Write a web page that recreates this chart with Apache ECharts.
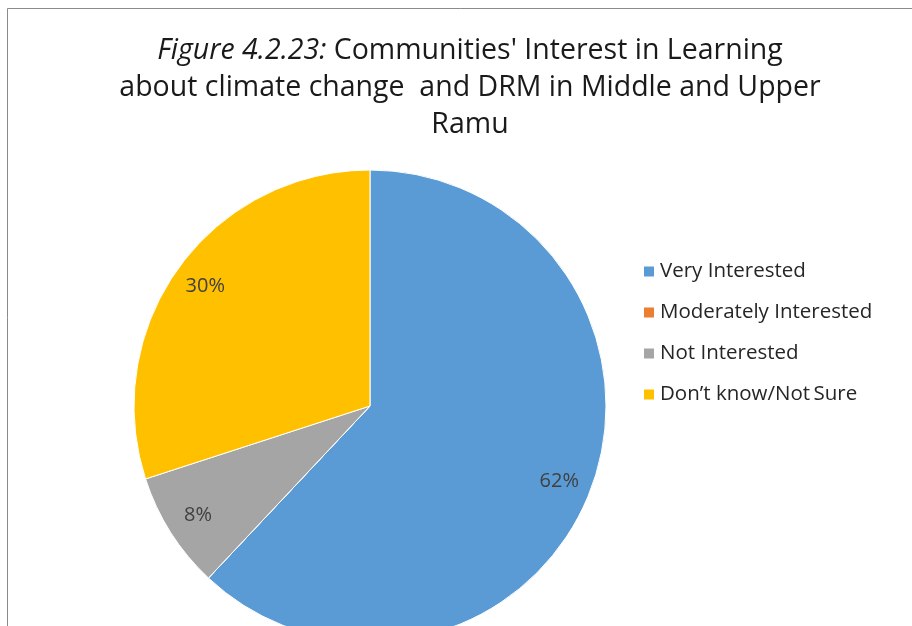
<!DOCTYPE html>
<html>
<head>
<meta charset="utf-8">
<script src="https://cdn.jsdelivr.net/npm/echarts@6/dist/echarts.min.js"></script>
<style>
  html, body { margin: 0; padding: 0; background: #fff; }
  #chart { width: 912px; height: 626px; }
</style>
</head>
<body>
<div id="chart"></div>
<script>
// Response categories and their shares (%)
const categories = ['Very Interested', 'Moderately Interested', 'Not Interested', 'Don\u2019t know/Not\u2009Sure'];
const shares = [62, 0, 8, 30];
const colors = ['#5B9BD5', '#ED7D31', '#A5A5A5', '#FFC000'];

const FONT = '"Open Sans", "Noto Sans", sans-serif';
const R = 236;            // pie radius in px
const LABEL_R = 0.85 * R; // distance of the percentage labels from the centre

const pieData = categories.map((name, i) => ({
  name, value: shares[i], itemStyle: { color: colors[i] }
}));

const chart = echarts.init(document.getElementById('chart'), null, { renderer: 'canvas' });
chart.setOption({
  animation: false,
  backgroundColor: '#fff',
  title: {
    text: '{i|Figure 4.2.23:} Communities\' Interest in Learning\nabout climate change  and DRM in Middle and Upper\nRamu',
    left: 465,
    top: 27,
    textAlign: 'center',
    textStyle: {
      fontFamily: FONT,
      fontSize: 28.5,
      fontWeight: 'normal',
      color: '#1a1a1a',
      lineHeight: 37,
      rich: {
        i: { fontStyle: 'italic', fontFamily: FONT, fontSize: 28.5, color: '#1a1a1a', lineHeight: 37 }
      }
    }
  },
  legend: {
    orient: 'vertical',
    left: 637,
    top: 256,
    itemWidth: 12,
    itemHeight: 12,
    itemGap: 20,
    icon: 'rect',
    data: categories,
    textStyle: { fontFamily: FONT, fontSize: 20.5, color: '#262626', lineHeight: 19 },
    selectedMode: false
  },
  graphic: [{
    type: 'rect',
    silent: true,
    z: -1,
    shape: { x: 7.5, y: 8.5, width: 1200, height: 1200 },
    style: { fill: 'none', stroke: '#8a8a8a', lineWidth: 1 }
  }],
  series: [
    {
      type: 'pie',
      center: [370, 406],
      radius: [0, R],
      startAngle: 90,
      clockwise: true,
      avoidLabelOverlap: false,
      label: { show: false },
      labelLine: { show: false },
      emphasis: { disabled: true },
      itemStyle: { borderColor: '#ffffff', borderWidth: 1 },
      data: pieData
    },
    {
      // transparent ring used only to place the percentage labels
      type: 'pie',
      center: [370, 406],
      radius: [0, 2 * LABEL_R],
      startAngle: 90,
      clockwise: true,
      silent: true,
      avoidLabelOverlap: false,
      emphasis: { disabled: true },
      itemStyle: { color: 'rgba(0,0,0,0)', borderWidth: 0 },
      labelLine: { show: false },
      label: {
        show: true,
        position: 'inside',
        fontFamily: FONT,
        fontSize: 20,
        color: '#404040',
        formatter: p => (p.value > 0 ? p.value + '%' : '')
      },
      data: categories.map((name, i) => ({ name, value: shares[i] }))
    }
  ]
});
</script>
</body>
</html>
